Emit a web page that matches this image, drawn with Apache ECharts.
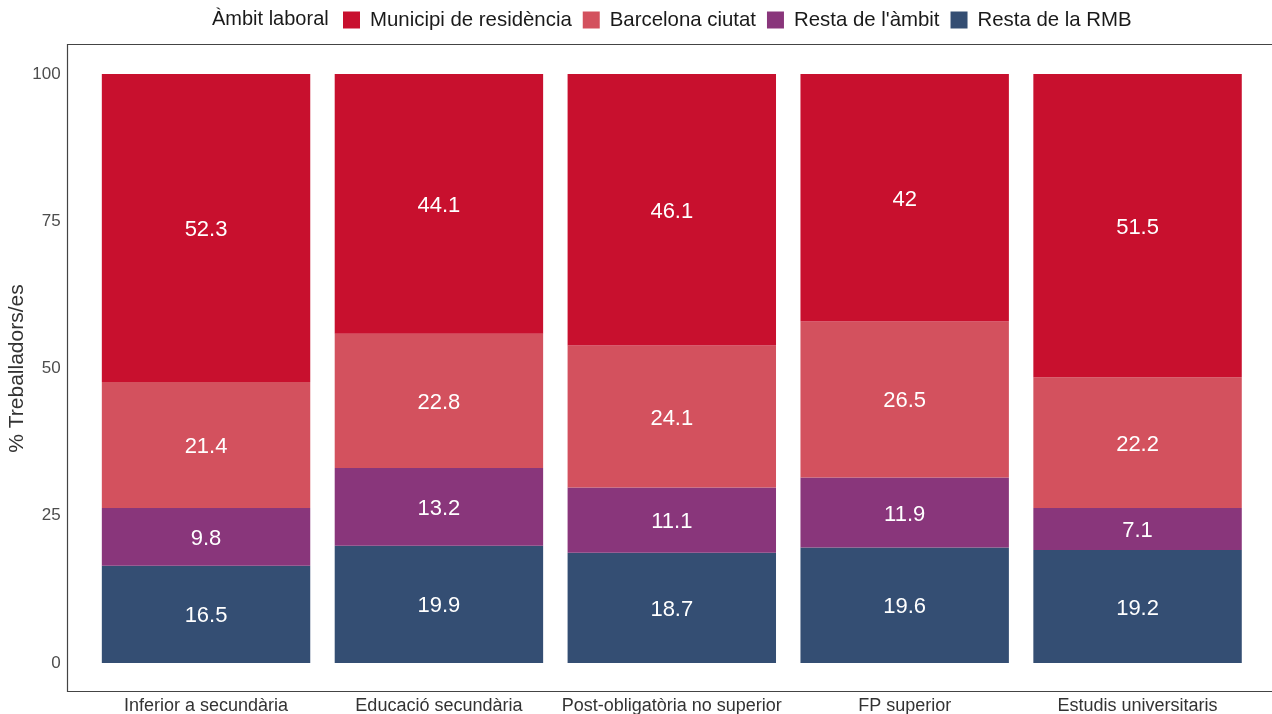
<!DOCTYPE html>
<html>
<head>
<meta charset="utf-8">
<script src="https://cdn.jsdelivr.net/npm/echarts@6/dist/echarts.min.js"></script>
<style>
  html, body { margin: 0; padding: 0; background: #fff; }
  #chart { width: 1272px; height: 714px; }
</style>
</head>
<body>
<div id="chart"></div>
<script>
// categories (nivell d'estudis)
var categories = ['Inferior a secundària', 'Educació secundària', 'Post-obligatòria no superior', 'FP superior', 'Estudis universitaris'];
// values per àmbit laboral (%)
var municipi = [52.3, 44.1, 46.1, 42, 51.5];
var barcelona = [21.4, 22.8, 24.1, 26.5, 22.2];
var restaAmbit = [9.8, 13.2, 11.1, 11.9, 7.1];
var restaRMB = [16.5, 19.9, 18.7, 19.6, 19.2];
var yTicks = [0, 25, 50, 75, 100];

var font = 'Liberation Sans, Arial, sans-serif';

function serie(name, data, color) {
  return {
    name: name,
    type: 'bar',
    stack: 'total',
    data: data,
    barWidth: '89.5%',
    itemStyle: { color: color },
    label: {
      show: true,
      position: 'inside',
      offset: [0, 2],
      color: '#fff',
      fontSize: 22,
      fontFamily: font
    }
  };
}

var chart = echarts.init(document.getElementById('chart'));
chart.setOption({
  animation: false,
  textStyle: { fontFamily: font },
  title: {
    text: 'Àmbit laboral',
    left: 212,
    top: 9,
    padding: 0,
    textStyle: { fontSize: 20, fontWeight: 'normal', color: '#1a1a1a', fontFamily: font }
  },
  legend: {
    left: 343,
    top: 10,
    padding: 0,
    itemWidth: 17,
    itemHeight: 17,
    itemGap: 11,
    icon: 'rect',
    data: ['Municipi de residència', 'Barcelona ciutat', "Resta de l'àmbit", 'Resta de la RMB'],
    textStyle: { fontSize: 20.4, color: '#1a1a1a', padding: [0, 0, 0, 5], fontFamily: font }
  },
  grid: { left: 89.6, right: 1272 - 1254, top: 74, bottom: 51, outerBoundsMode: 'none' },
  xAxis: {
    type: 'category',
    data: categories,
    axisLine: { show: false },
    axisTick: { show: false },
    axisLabel: { margin: 34, fontSize: 18, color: '#333', fontFamily: font, interval: 0 }
  },
  yAxis: {
    type: 'value',
    min: yTicks[0],
    max: yTicks[yTicks.length - 1],
    interval: 25,
    name: '% Treballadors/es',
    nameLocation: 'middle',
    nameGap: 62,
    nameMoveOverlap: false,
    nameTextStyle: { fontSize: 21, color: '#333', fontFamily: font },
    axisLine: { show: false },
    axisTick: { show: false },
    splitLine: { show: false },
    axisLabel: { margin: 29, fontSize: 17, color: '#4d4d4d', fontFamily: font }
  },
  graphic: [{
    type: 'polyline',
    silent: true,
    shape: { points: [[1300, 44.5], [67.5, 44.5], [67.5, 691.5], [1300, 691.5]] },
    style: { stroke: '#444', lineWidth: 1.2, fill: null }
  }],
  series: [
    serie('Resta de la RMB', restaRMB, '#344E73'),
    serie("Resta de l'àmbit", restaAmbit, '#89367B'),
    serie('Barcelona ciutat', barcelona, '#D3515E'),
    serie('Municipi de residència', municipi, '#C8102E')
  ]
});
</script>
</body>
</html>
